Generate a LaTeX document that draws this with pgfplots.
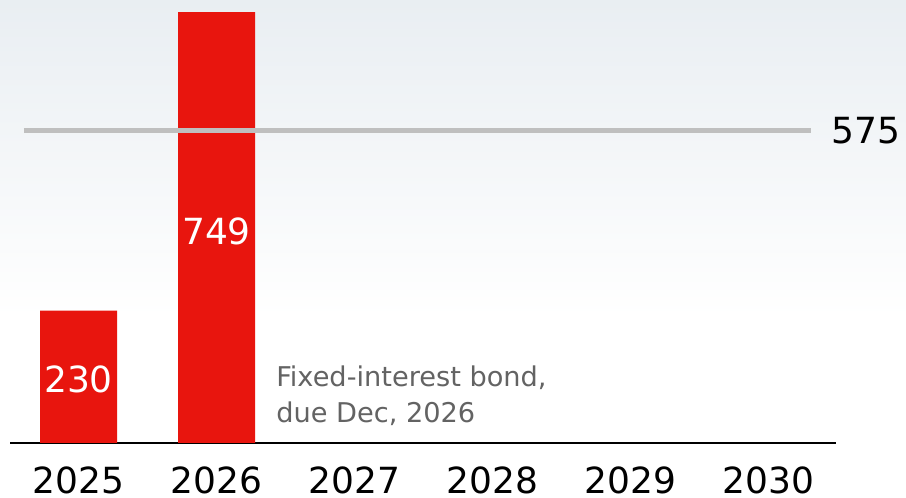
\documentclass[border=0pt]{standalone}
\usepackage{pgfplots}
\pgfplotsset{compat=1.18}
\usepackage{fontspec}
\setmainfont{DejaVu Sans}
\definecolor{barred}{RGB}{232,21,14}
\definecolor{refgray}{RGB}{191,191,191}
\definecolor{notegray}{RGB}{99,99,99}
\definecolor{bgtop}{RGB}{233,238,242}
\begin{document}
\begin{tikzpicture}
\useasboundingbox (0,0) rectangle (679.5pt,373.5pt);
\fill[white] (0,0) rectangle (679.5pt,373.5pt);
\shade[top color=bgtop, bottom color=white] (0,135pt) rectangle (679.5pt,373.5pt);
\begin{axis}[
  at={(7.5pt,41.25pt)}, anchor=south west,
  scale only axis, width=619.5pt, height=332.25pt,
  xmin=-0.4964, xmax=5.489, ymin=0, ymax=769.9,
  axis x line=bottom, axis y line=none,
  x axis line style={-, line width=1.5pt, black},
  xtick={0,1,2,3,4,5},
  xticklabels={2025,2026,2027,2028,2029,2030},
  major tick length=0pt,
  xticklabel style={font=\fontsize{27}{30}\selectfont, anchor=center, inner sep=0pt, yshift=-27.75pt},
  ytick=\empty,
  clip=false,
]
\addplot[ybar, bar width=57.75pt, fill=barred, draw=none] coordinates {(0,230) (1,749)};
\addplot[line width=3.75pt, color=refgray] coordinates {(-0.395,543) (5.306,543)};
\node[font=\fontsize{27}{30}\selectfont, text=white, inner sep=0pt] at (axis cs:0,110) {230};
\node[font=\fontsize{27}{30}\selectfont, text=white, inner sep=0pt] at (axis cs:1,368) {749};
\node[font=\fontsize{27}{30}\selectfont, text=black, inner sep=0pt] at (axis cs:5.707,543) {575};
\node[font=\fontsize{20.4}{24}\selectfont, text=notegray, anchor=base west, inner sep=0pt] at (axis cs:1.431,97.8) {Fixed-interest bond,};
\node[font=\fontsize{20.4}{24}\selectfont, text=notegray, anchor=base west, inner sep=0pt] at (axis cs:1.431,35.3) {due Dec, 2026};
\end{axis}
\end{tikzpicture}
\end{document}
